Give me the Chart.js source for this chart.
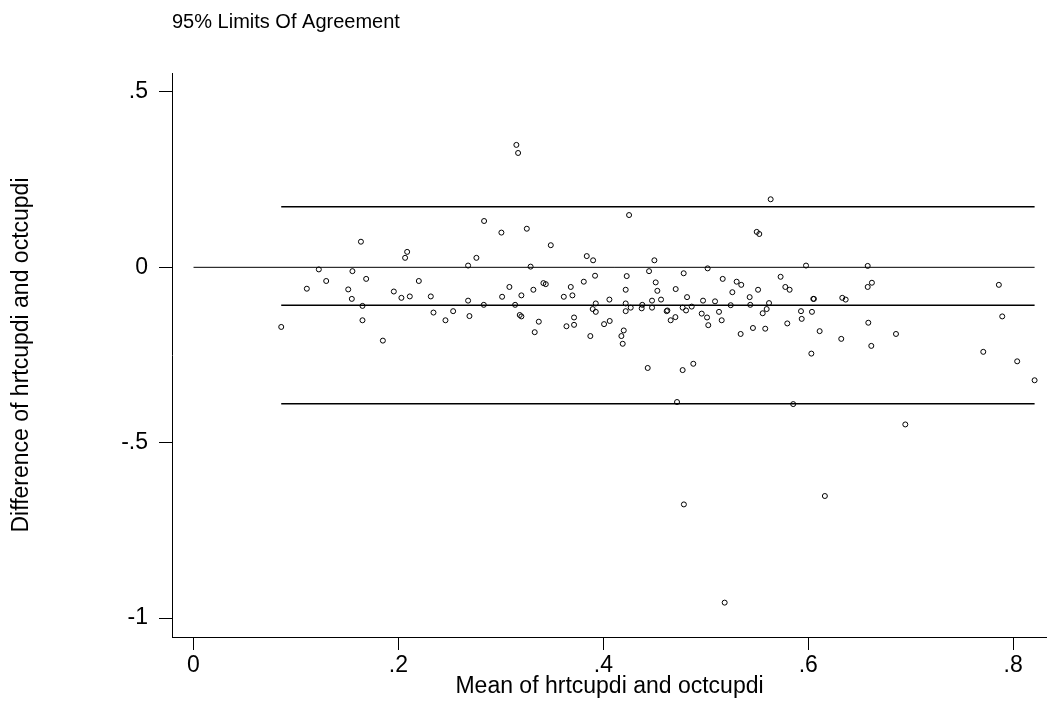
<!DOCTYPE html>
<html lang="en">
<head>
  <meta charset="UTF-8" />
  <title>95% Limits Of Agreement</title>
  <script src="https://cdn.jsdelivr.net/npm/chart.js@4.4.0/dist/chart.umd.min.js"></script>
  <style>
    body { margin: 0; background: #fff; }
    canvas { display: block; }
  </style>
</head>
<body>
  <canvas id="baChart" width="1047" height="703"></canvas>

  <script>
    // Bland-Altman data: mean of hrtcupdi and octcupdi (x) and their difference (y)
    const meanValues = [
      0.0856, 0.1106, 0.1223, 0.1295, 0.1510, 0.1545, 0.1551, 0.1634, 0.1649, 0.1649,
      0.1685, 0.1848, 0.1955, 0.2029, 0.2065, 0.2085, 0.2111, 0.2199, 0.2316, 0.2342,
      0.2459, 0.2534, 0.2680, 0.2761, 0.2680, 0.2693, 0.2833, 0.2836, 0.3005, 0.3012,
      0.3083, 0.3139, 0.3151, 0.3168, 0.3200, 0.3184, 0.3200, 0.3253, 0.3290, 0.3317,
      0.3330, 0.3370, 0.3415, 0.3438, 0.3487, 0.3614, 0.3640, 0.3682, 0.3698, 0.3714,
      0.3714, 0.3809, 0.3838, 0.3900, 0.3919, 0.3926, 0.3896, 0.3926, 0.3873, 0.4007,
      0.4062, 0.4059, 0.4218, 0.4228, 0.4218, 0.4218, 0.4267, 0.4199, 0.4176, 0.4189,
      0.4251, 0.4380, 0.4374, 0.4446, 0.4498, 0.4475, 0.4475, 0.4511, 0.4527, 0.4563,
      0.4433, 0.4618, 0.4625, 0.4657, 0.4706, 0.4703, 0.4784, 0.4817, 0.4774, 0.4807,
      0.4862, 0.4774, 0.4878, 0.4719, 0.4786, 0.4960, 0.4973, 0.5012, 0.5024, 0.5018,
      0.5090, 0.5129, 0.5155, 0.5165, 0.5243, 0.5259, 0.5301, 0.5346, 0.5340, 0.5184,
      0.5428, 0.5434, 0.5510, 0.5460, 0.5555, 0.5594, 0.5617, 0.5580, 0.5633, 0.5497,
      0.5522, 0.5730, 0.5776, 0.5818, 0.5795, 0.5853, 0.5929, 0.5936, 0.5978, 0.6036,
      0.6049, 0.6055, 0.6030, 0.6111, 0.6162, 0.6322, 0.6332, 0.6365, 0.6580, 0.6580,
      0.6621, 0.6586, 0.6615, 0.6856, 0.6947, 0.7708, 0.7860, 0.7893, 0.8039, 0.8209
    ];
    const diffValues = [
      -0.170, -0.061, -0.006, -0.039, -0.063, -0.090, -0.011, 0.073, -0.110, -0.151,
      -0.033, -0.209, -0.069, -0.087, 0.027, 0.044, -0.083, -0.039, -0.083, -0.129,
      -0.151, -0.125, 0.005, 0.027, -0.095, -0.139, -0.107, 0.132, 0.099, -0.084,
      -0.056, -0.107, 0.349, 0.326, -0.080, -0.136, -0.140, 0.110, 0.002, -0.064,
      -0.185, -0.155, -0.045, -0.048, 0.063, -0.084, -0.168, -0.056, -0.080, -0.143,
      -0.164, -0.041, 0.032, 0.020, -0.024, -0.103, -0.119, -0.127, -0.196, -0.162,
      -0.153, -0.092, -0.064, -0.025, -0.103, -0.125, -0.115, -0.180, -0.196, -0.218,
      0.149, -0.107, -0.117, -0.011, 0.020, -0.095, -0.115, -0.043, -0.067, -0.092,
      -0.287, -0.125, -0.123, -0.151, -0.062, -0.142, -0.017, -0.085, -0.115, -0.123,
      -0.112, -0.293, -0.275, -0.384, -0.676, -0.132, -0.095, -0.143, -0.165, -0.003,
      -0.097, -0.127, -0.151, -0.033, -0.108, -0.071, -0.041, -0.050, -0.190, -0.956,
      -0.085, -0.107, -0.064, -0.173, -0.131, -0.119, -0.102, -0.175, 0.194, 0.101,
      0.095, -0.027, -0.056, -0.064, -0.160, -0.390, -0.125, -0.147, 0.005, -0.127,
      -0.090, -0.090, -0.246, -0.182, -0.652, -0.204, -0.087, -0.092, 0.004, -0.056,
      -0.044, -0.158, -0.224, -0.190, -0.448, -0.241, -0.050, -0.140, -0.268, -0.322
    ];

    // reference lines: 95% limits and mean difference
    const upperLimit = 0.1726;
    const meanDiff = -0.108;
    const lowerLimit = -0.389;

    const xTicks = [0, 0.2, 0.4, 0.6, 0.8];
    const xTickLabels = ['0', '.2', '.4', '.6', '.8'];
    const yTicks = [-1, -0.5, 0, 0.5];
    const yTickLabels = ['-1', '-.5', '0', '.5'];

    const FONT = '"Liberation Sans", Arial, sans-serif';

    const points = meanValues.map((m, i) => ({ x: m, y: diffValues[i] }));
    const xMin = Math.min(...meanValues);
    const xMax = Math.max(...meanValues);

    function hLine(y, fromX, width) {
      return {
        data: [{ x: fromX, y: y }, { x: xMax, y: y }],
        showLine: true,
        borderColor: '#000',
        borderWidth: width,
        pointRadius: 0,
        fill: false
      };
    }

    // title sits flush with the plot's left edge, so draw it ourselves
    const leftTitle = {
      id: 'leftTitle',
      afterDraw(chart) {
        const ctx = chart.ctx;
        ctx.save();
        ctx.font = '20px ' + FONT;
        ctx.fillStyle = '#000';
        ctx.textBaseline = 'alphabetic';
        ctx.fillText('95% Limits Of Agreement', chart.chartArea.left, 28);
        ctx.restore();
      }
    };

    const ctx = document.getElementById('baChart').getContext('2d');
    new Chart(ctx, {
      type: 'scatter',
      data: {
        datasets: [
          hLine(upperLimit, xMin, 1.6),
          hLine(meanDiff, xMin, 1.6),
          hLine(lowerLimit, xMin, 1.6),
          hLine(0, 0, 1),
          {
            data: points,
            pointStyle: 'circle',
            pointRadius: 2.5,
            pointBorderWidth: 1,
            pointBorderColor: '#000',
            pointBackgroundColor: 'rgba(0,0,0,0)',
            showLine: false
          }
        ]
      },
      options: {
        responsive: false,
        animation: false,
        layout: { autoPadding: false, padding: { top: 73, right: 0, bottom: 0, left: 0 } },
        plugins: {
          legend: { display: false },
          tooltip: { enabled: false },
          title: { display: false }
        },
        scales: {
          x: {
            type: 'linear',
            min: -0.021,
            max: 0.833,
            afterFit(scale) { scale.height = 66; },
            afterBuildTicks(scale) { scale.ticks = xTicks.map(v => ({ value: v })); },
            border: { display: true, color: '#000', width: 1 },
            grid: { drawOnChartArea: false, drawTicks: true, tickLength: 13, color: '#000' },
            ticks: {
              autoSkip: false,
              maxRotation: 0,
              padding: 2,
              color: '#000',
              font: { family: FONT, size: 23 },
              callback: (v) => xTickLabels[xTicks.indexOf(v)]
            },
            title: {
              display: true,
              text: 'Mean of hrtcupdi and octcupdi',
              color: '#000',
              font: { family: FONT, size: 23 },
              padding: { top: 0, bottom: 3 }
            }
          },
          y: {
            type: 'linear',
            min: -1.054,
            max: 0.554,
            afterFit(scale) { scale.width = 172; },
            afterBuildTicks(scale) { scale.ticks = yTicks.map(v => ({ value: v })); },
            border: { display: true, color: '#000', width: 1 },
            grid: { drawOnChartArea: false, drawTicks: true, tickLength: 13, color: '#000' },
            ticks: {
              autoSkip: false,
              padding: 11,
              color: '#000',
              font: { family: FONT, size: 23 },
              callback: (v) => yTickLabels[yTicks.indexOf(v)]
            },
            title: {
              display: true,
              text: 'Difference of hrtcupdi and octcupdi',
              color: '#000',
              font: { family: FONT, size: 23 },
              padding: { top: 8, bottom: 0 }
            }
          }
        }
      },
      plugins: [leftTitle]
    });
  </script>
</body>
</html>
